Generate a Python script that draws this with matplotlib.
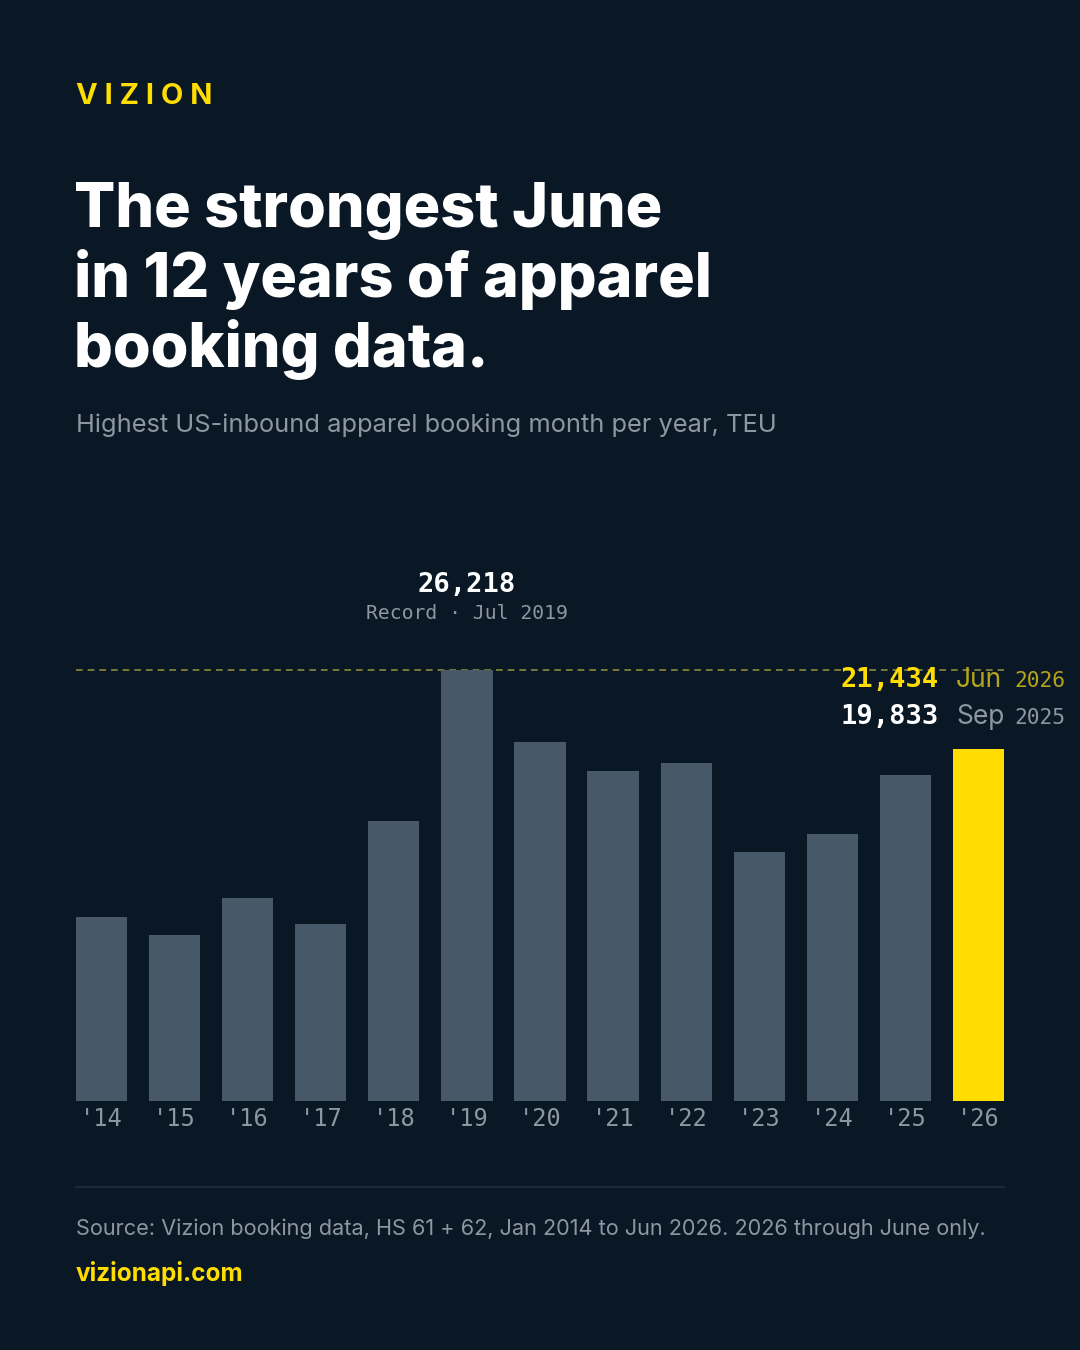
import matplotlib.pyplot as plt

# ==========================
# Data
# ==========================

years = ["'14", "'15", "'16", "'17", "'18", "'19", "'20",
         "'21", "'22", "'23", "'24", "'25", "'26"]
peak_teu = [11210, 10100, 12350, 10770, 17030, 26218, 21840,
            20070, 20560, 15150, 16240, 19833, 21434]

record_value = 26218
record_label = "Record · Jul 2019"
current_label = ("21,434", "Jun", "2026")
previous_label = ("19,833", "Sep", "2025")

# ==========================
# Style
# ==========================

BG = "#0a1826"
BAR = "#475869"
YELLOW = "#ffdd00"
WHITE = "#ffffff"
GRAY = "#8d97a3"
MONO = "DejaVu Sans Mono"
SANS = "Inter"

W, H = 1080, 1350

fig = plt.figure(figsize=(10.8, 13.5), dpi=100, facecolor=BG)


def fx(px):
    return px / W


def fy(py):
    return 1 - py / H


# ==========================
# Header
# ==========================

fig.text(fx(76), fy(96), "V I Z I O N", color=YELLOW, fontsize=21,
         fontweight="bold", family=SANS, va="center", ha="left")

title = "The strongest June\nin 12 years of apparel\nbooking data."
fig.text(fx(74), fy(182), title, color=WHITE, fontsize=44, fontweight="heavy",
         family=SANS, va="top", ha="left", linespacing=1.19)

fig.text(fx(76), fy(425), "Highest US-inbound apparel booking month per year, TEU",
         color=GRAY, fontsize=18.3, family=SANS, va="center", ha="left")

# ==========================
# Bars
# ==========================

ax = fig.add_axes([fx(76), fy(1101), fx(1004) - fx(76), fy(670) - fy(1101)])
ax.set_facecolor(BG)

x = list(range(len(years)))
colors = [BAR] * (len(years) - 1) + [YELLOW]
ax.bar(x, peak_teu, width=0.7, color=colors, zorder=2)

ax.set_xlim(-0.35, len(years) - 1 + 0.35)
ax.set_ylim(0, record_value)

ax.axhline(record_value, color="#8c8a3c", lw=1.2, ls=(0, (4, 3)), zorder=1,
           clip_on=False)

ax.set_xticks(x)
ax.set_xticklabels(years, family=MONO, fontsize=17, color=GRAY)
ax.tick_params(axis="x", length=0, pad=4)
ax.set_yticks([])
for s in ax.spines.values():
    s.set_visible(False)

# record annotation above the '19 bar
fig.text(fx(467), fy(592), f"{record_value:,}", ha="center", va="baseline",
         fontsize=19.5, fontweight="bold", family=MONO, color=WHITE)
fig.text(fx(467), fy(619), record_label, ha="center", va="baseline",
         fontsize=14.2, family=MONO, color=GRAY)

# current vs previous labels
for (val, mon, yr), py, c1, c2 in [
    (current_label, 687, YELLOW, "#b5a51a"),
    (previous_label, 724, WHITE, GRAY),
]:
    fig.text(fx(939), fy(py), val, ha="right", va="baseline", fontsize=19.5,
             fontweight="bold", family=MONO, color=c1)
    fig.text(fx(956), fy(py), mon, ha="left", va="baseline", fontsize=19,
             family=SANS, color=c2)
    fig.text(fx(1014), fy(py), yr, ha="left", va="baseline", fontsize=15.3,
             family=MONO, color=c2)

# ==========================
# Footer
# ==========================

fig.add_artist(plt.Line2D([fx(76), fx(1004)], [fy(1187), fy(1187)],
                          color="#1f2d3c", lw=1.2))

fig.text(fx(76), fy(1229),
         "Source: Vizion booking data, HS 61 + 62, Jan 2014 to Jun 2026. 2026 through June only.",
         color=GRAY, fontsize=15.6, family=SANS, va="center", ha="left")

fig.text(fx(76), fy(1273), "vizionapi.com", color=YELLOW, fontsize=17.5,
         fontweight="bold", family=SANS, va="center", ha="left")

fig.savefig("out.png", dpi=100, facecolor=BG)
